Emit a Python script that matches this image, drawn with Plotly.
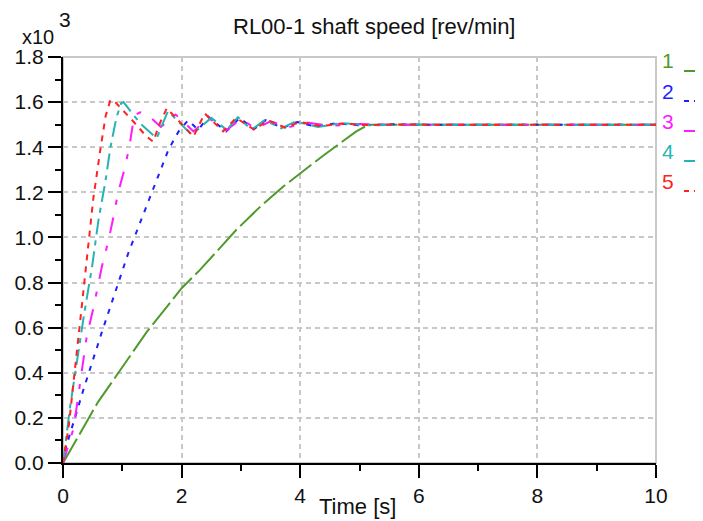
import plotly.graph_objects as go

# ---- data (shaft speed in units of x10^3 rev/min) ----
t1 = [0, 0.59, 1.41, 2.0, 2.31, 2.92, 3.3, 3.71, 4.38, 4.94, 5.15, 5.3, 10]
v1 = [0, 0.27, 0.58, 0.775, 0.856, 1.033, 1.13, 1.225, 1.361, 1.469, 1.50, 1.50, 1.50]

t2 = [0, 0.05, 0.35, 0.655, 1.1, 1.55, 1.78, 1.95, 2.11, 2.28, 2.45, 2.75, 2.98, 3.22, 3.42,
      3.7, 3.95, 4.25, 4.6, 5.0, 5.5, 6.0, 10]
v2 = [0, 0.07, 0.33, 0.58, 0.93, 1.24, 1.39, 1.47, 1.52, 1.477, 1.535, 1.47, 1.53, 1.48, 1.52,
      1.485, 1.512, 1.492, 1.506, 1.497, 1.502, 1.50, 1.50]

t3 = [0, 0.18, 0.4, 0.515, 0.655, 0.77, 0.85, 0.93, 1.05, 1.13, 1.2, 1.3, 1.44, 1.65, 1.9,
      2.2, 2.45, 2.75, 3.0, 3.25, 3.5, 3.8, 4.1, 4.5, 5.0, 5.5, 10]
v3 = [0, 0.155, 0.56, 0.69, 0.87, 0.99, 1.09, 1.20, 1.315, 1.42, 1.54, 1.555, 1.54, 1.49, 1.545,
      1.47, 1.53, 1.475, 1.525, 1.482, 1.515, 1.488, 1.51, 1.495, 1.503, 1.50, 1.50]

t4 = [0, 0.12, 0.35, 0.49, 0.6, 0.71, 0.8, 0.9, 0.98, 1.02, 1.3, 1.58, 1.77, 2.17, 2.5,
      2.76, 2.95, 3.18, 3.4, 3.68, 3.92, 4.3, 4.7, 5.2, 5.8, 6.5, 10]
v4 = [0, 0.25, 0.65, 0.87, 1.08, 1.24, 1.40, 1.53, 1.595, 1.60, 1.506, 1.44, 1.56, 1.455, 1.53,
      1.477, 1.533, 1.477, 1.52, 1.484, 1.514, 1.49, 1.507, 1.497, 1.501, 1.50, 1.50]

t5 = [0, 0.1, 0.29, 0.4, 0.51, 0.63, 0.72, 0.8, 0.88, 1.19, 1.41, 1.52, 1.64, 1.75, 2.2,
      2.39, 2.7, 2.92, 3.23, 3.45, 3.75, 4.0, 4.35, 4.7, 5.1, 5.6, 6.2, 10]
v5 = [0, 0.17, 0.63, 0.90, 1.17, 1.39, 1.54, 1.61, 1.60, 1.513, 1.447, 1.425, 1.51, 1.573, 1.447,
      1.55, 1.47, 1.53, 1.477, 1.52, 1.487, 1.512, 1.493, 1.505, 1.498, 1.501, 1.50, 1.50]

series_names = ["1", "2", "3", "4", "5"]
x_ticks = [0, 2, 4, 6, 8, 10]
y_ticks = [0.0, 0.2, 0.4, 0.6, 0.8, 1.0, 1.2, 1.4, 1.6, 1.8]

title_text = "RL00-1 shaft speed [rev/min]"
x_title = "Time [s]"

# ---- styles ----
colors = ["#4f9a2c", "#1f1fff", "#ff1aff", "#25b3b3", "#ff2222"]
dashes = ["28px,5px", "5px,7px", "16px,13px,5px,13px", "16px,6px,5px,6px", "6px,6px"]
legend_dash = ["solid", "5px,5px", "solid", "solid", "5px,5px"]

FONT = "Liberation Sans, Arial, sans-serif"

fig = go.Figure()
for t, v, c, d, n in zip([t1, t2, t3, t4, t5], [v1, v2, v3, v4, v5], colors, dashes, series_names):
    fig.add_trace(go.Scatter(x=t, y=v, mode="lines", name=n,
                             line=dict(color=c, width=2, dash=d)))

# The page body has an 8px margin; the figure is sized so that it ends at the window edge.
OFF = 8
W, H = 703 - OFF, 521 - OFF
# plot area in page pixels: left 63, right 656, top 57, bottom 463
L, T = 63 - OFF, 57 - OFF
R, B = 703 - 656, 521 - 463
pw, ph = W - L - R, H - T - B


def px_x(x):  # page pixel -> paper coordinate
    return (x - OFF - L) / pw


def px_y(y):
    return (H - B - (y - OFF)) / ph


axis_common = dict(
    showline=True, linecolor="black", linewidth=2,
    ticks="outside", ticklen=13, tickwidth=2, tickcolor="black",
    showgrid=True, gridcolor="#c8c8c8", gridwidth=1.5, griddash="5px,4px",
    zeroline=False, mirror=False,
    tickfont=dict(family=FONT, size=21, color="#111"),
)

fig.update_layout(
    width=W, height=H,
    margin=dict(l=L, r=R, t=T, b=B, autoexpand=False),
    plot_bgcolor="white", paper_bgcolor="white",
    showlegend=False,
    font=dict(family=FONT, color="#111"),
    xaxis=dict(range=[0, 10], tickvals=x_ticks, ticktext=[str(v) for v in x_ticks],
               minor=dict(dtick=1, ticklen=6, tickwidth=2, tickcolor="black", ticks="outside", showgrid=False),
               **axis_common),
    yaxis=dict(range=[0, 1.8], tickvals=y_ticks, ticktext=[f"{v:.1f}" for v in y_ticks],
               minor=dict(dtick=0.1, ticklen=6, tickwidth=2, tickcolor="black", ticks="outside", showgrid=False),
               **axis_common),
)

# gray frame on top/right
fig.add_shape(type="rect", xref="paper", yref="paper", x0=0, x1=1, y0=0, y1=1,
              line=dict(color="#c8c8c8", width=2), layer="below")

# title, axis title and exponent
fig.add_annotation(text=title_text, xref="paper", yref="paper", x=px_x(374), y=px_y(27),
                   xanchor="center", yanchor="middle", showarrow=False,
                   font=dict(family=FONT, size=22, color="#111"))
fig.add_annotation(text=x_title, xref="paper", yref="paper", x=px_x(357), y=px_y(506),
                   xanchor="center", yanchor="middle", showarrow=False,
                   font=dict(family=FONT, size=22, color="#111"))
fig.add_annotation(text="x10", xref="paper", yref="paper", x=px_x(56), y=px_y(37),
                   xanchor="right", yanchor="middle", showarrow=False,
                   font=dict(family=FONT, size=20, color="#111"))
fig.add_annotation(text="3", xref="paper", yref="paper", x=px_x(65), y=px_y(19),
                   xanchor="center", yanchor="middle", showarrow=False,
                   font=dict(family=FONT, size=21, color="#111"))

# legend (label then line sample)
label_y = [61, 91, 121, 151, 181]
for i, n in enumerate(series_names):
    fig.add_annotation(text=n, xref="paper", yref="paper", x=px_x(668), y=px_y(label_y[i]),
                       xanchor="center", yanchor="middle", showarrow=False,
                       font=dict(family=FONT, size=21, color=colors[i]))
    fig.add_shape(type="line", xref="paper", yref="paper",
                  x0=px_x(684), x1=px_x(730), y0=px_y(label_y[i] + 10), y1=px_y(label_y[i] + 10),
                  line=dict(color=colors[i], width=2, dash=legend_dash[i]))

fig.write_html("out.html")
